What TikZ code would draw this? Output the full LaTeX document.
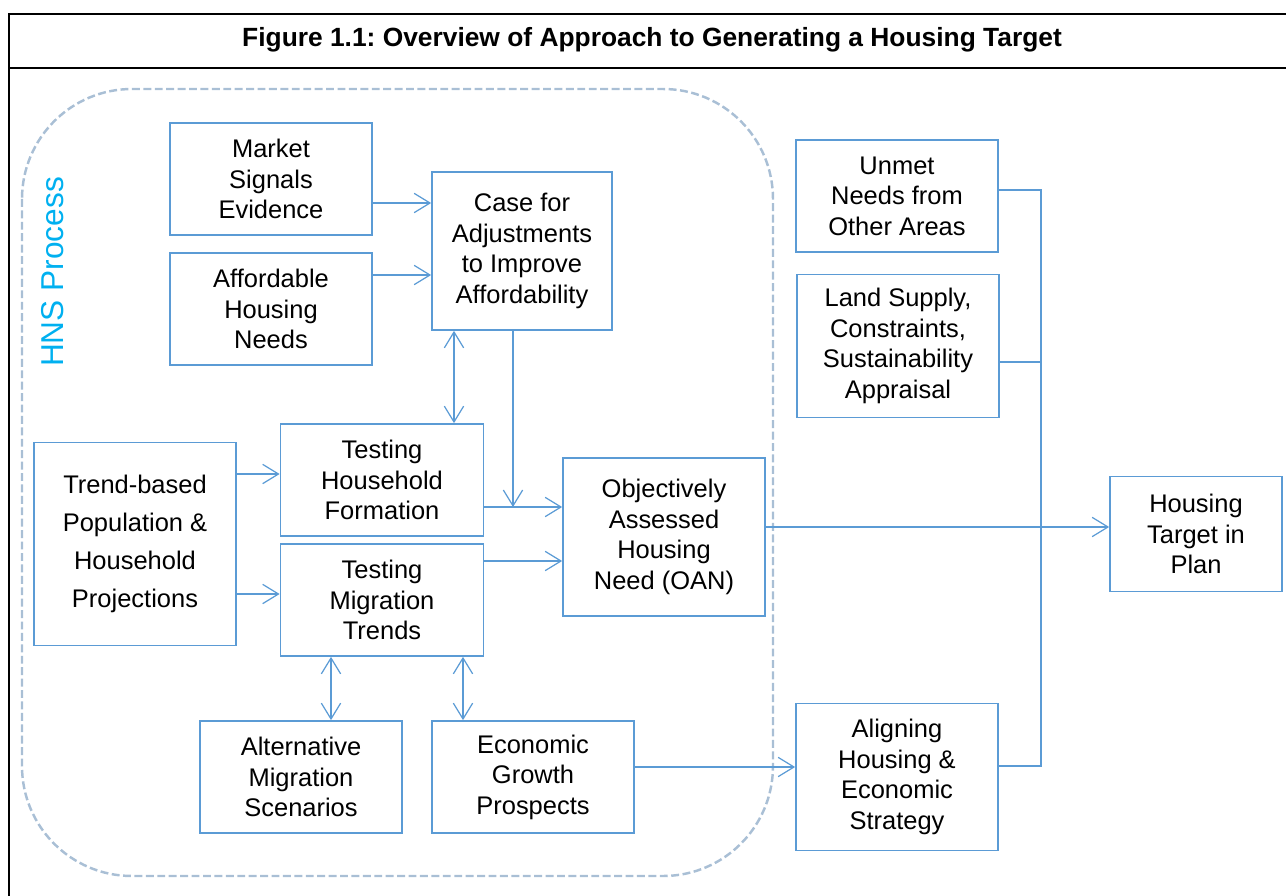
\documentclass[tikz,border=0pt]{standalone}
\usepackage{fontspec}
\setmainfont{Liberation Sans}
\frenchspacing
\usetikzlibrary{arrows.meta}
\definecolor{boxblue}{HTML}{5B9BD5}
\definecolor{hnsgrey}{HTML}{A9BFD5}
\definecolor{hnscyan}{HTML}{00B0F0}

\begin{document}
\begin{tikzpicture}
      [x=0.02cm, y=-0.02cm,
       >={Straight Barb[length=9pt,width=11pt]},
       box/.style={draw=boxblue,line width=1pt,align=center,inner sep=1mm,
         minimum width=4.04cm,minimum height=2.24cm,
         font=\fontsize{14.5}{17.4}\selectfont},
       arr/.style={boxblue,line width=0.7pt},
       link/.style={boxblue,line width=1pt}]
      \useasboundingbox (0,0) rectangle (1286,896);

      \draw[line width=1.1pt] (9,900) -- (9,14) -- (1295,14);
      \draw[line width=1.1pt] (9,68) -- (1295,68);
      \node (title) at (652,40) [font=\fontsize{15}{18}\selectfont\bfseries]
        {Figure 1.1: Overview of Approach to Generating a Housing Target};

      \draw[hnsgrey, line width=1.4pt, dash pattern=on 4.5pt off 2pt,
        rounded corners=2.2cm] (22,89) rectangle (773,876);
      \node (hns) at (53,272) [rotate=90, text=hnscyan,
        font=\fontsize{18}{20}\selectfont] {HNS Process};

      \node (market) at (271,179) [box] {Market\\Signals\\Evidence};
      \node (afford) at (271,309) [box] {Affordable\\Housing\\Needs};
      \node (case) at (522,251) [box, minimum width=3.6cm, minimum height=3.16cm]
        {Case for\\Adjustments\\to Improve\\Affordability};

      \node (trend) at (135,544) [box, minimum height=4.06cm,
        font=\fontsize{14.5}{21.7}\selectfont]
        {Trend-based\\Population \&\\Household\\Projections};
      \node (formation) at (382,480) [box, minimum width=4.06cm] {Testing\\Household\\Formation};
      \node (migration) at (382,600) [box, minimum width=4.06cm] {Testing\\Migration\\Trends};
      \node (oan) at (664,537) [box, minimum height=3.16cm]
        {Objectively\\Assessed\\Housing\\Need (OAN)};

      \node (altmig) at (301,777) [box] {Alternative\\Migration\\Scenarios};
      \node (econ) at (533,777) [box] {Economic\\Growth\\Prospects};

      \node (unmet) at (897,196) [box] {Unmet\\Needs from\\Other Areas};
      \node (land) at (898,346) [box, minimum height=2.86cm]
        {Land Supply,\\Constraints,\\Sustainability\\Appraisal};
      \node (align) at (897,777) [box, minimum height=2.94cm]
        {Aligning\\Housing \&\\Economic\\Strategy};
      \node (target) at (1196,534) [box, minimum width=3.44cm, minimum height=2.3cm]
        {Housing\\Target in\\Plan};

      \draw[->, arr] ([shift={(0,24)}]market.east) coordinate (m1) -- (m1 -| case.west);
      \draw[->, arr] ([shift={(0,-34)}]afford.east) coordinate (a1) -- (a1 -| case.west);
      \draw[<->, arr] ([shift={(-68,0)}]case.south) coordinate (c1) -- (c1 |- formation.north);

      \draw[->, arr] ([shift={(0,27)}]formation.east) coordinate (f1) -- (f1 -| oan.west);
      \draw[->, arr] ([shift={(-9,0)}]case.south) coordinate (c2) -- (c2 |- f1);
      \draw[->, arr] ([shift={(0,-39)}]migration.east) coordinate (g1) -- (g1 -| oan.west);

      \draw[->, arr] ([shift={(0,-70)}]trend.east) coordinate (t1) -- (t1 -| formation.west);
      \draw[->, arr] ([shift={(0,50)}]trend.east) coordinate (t2) -- (t2 -| migration.west);

      \draw[<->, arr] ([shift={(-51,0)}]migration.south) coordinate (g2) -- (g2 |- altmig.north);
      \draw[<->, arr] ([shift={(81,0)}]migration.south) coordinate (g3) -- (g3 |- econ.north);

      \draw[->, arr] ([shift={(0,-10)}]econ.east) coordinate (e1) -- (e1 -| align.west);
      \draw[->, arr] ([shift={(0,-10)}]oan.east) coordinate (o1) -- (o1 -| target.west);

      \coordinate (bus) at ([shift={(42,-11)}]align.east);
      \draw[link] ([shift={(0,-6)}]unmet.east) -| (bus) -- (bus -| align.east);
      \draw[link] ([shift={(0,16)}]land.east) coordinate (l1) -- (l1 -| bus);
      \end{tikzpicture}
\end{document}
